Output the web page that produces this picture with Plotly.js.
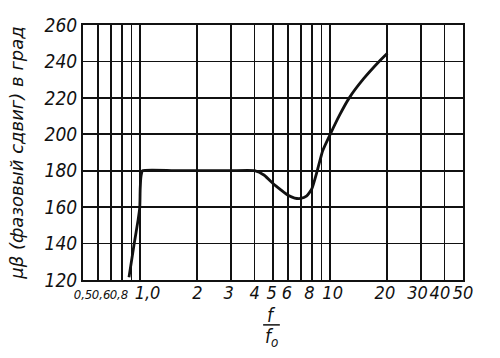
<!DOCTYPE html>
<html>
<head>
<meta charset="utf-8">
<script src="https://cdn.plot.ly/plotly-3.0.1.min.js"></script>
<style>html,body{margin:0;padding:0;background:#fff;}#chart{width:500px;height:358px;}</style>
</head>
<body>
<div id="chart"></div>
<script>
// Curve: phase shift (deg) vs f/f0
const freqRatio = [0.873, 0.93, 0.975, 0.995, 1.0, 1.01, 1.03, 1.5, 2, 3, 4, 4.5, 5, 5.5, 6, 6.5, 7, 7.5, 8, 8.55, 9.13, 10, 11.2, 12.6, 15, 18.3, 20];
const phaseDeg  = [121.5, 140, 153, 160, 170, 177, 180, 180, 180, 180, 180, 177.5, 173, 169.5, 166.5, 165, 164.8, 166, 170, 180, 191, 200, 210.5, 220, 230.5, 240.5, 244.5];

// Grid lines (x) and tick labels
const xGridVals = [0.5, 0.6, 0.7, 0.8, 0.9, 1, 2, 3, 4, 5, 6, 7, 8, 9, 10, 20, 30, 40, 50];
const xLabelVals = [0.5, 0.622, 0.773, 1.093, 2, 2.92, 4, 4.92, 5.92, 7.78, 10.3, 19.4, 28.8, 37.8, 50];
const xLabelText = ['0,5', '0,6', '0,8', '1,0', '2', '3', '4', '5', '6', '8', '10', '20', '30', '40', '50'];
const yTickVals = [120, 140, 160, 180, 200, 220, 240, 260];

const FAM = 'DejaVu Sans Condensed, DejaVu Sans, sans-serif';
const yTickFont = {family: FAM, size: 19, color: '#111', style: 'italic'};
const xTickFont = {family: FAM, size: 18, color: '#111', style: 'italic'};
const xRange = [Math.log10(0.5), Math.log10(50)];
const smallLabel = t => '<span style="font-size:13px">' + t + '</span>';
const xTickText = xLabelText.map((t, i) => i < 3 ? smallLabel(t) : t);

const data = [{
  x: freqRatio, y: phaseDeg, type: 'scatter', mode: 'lines',
  line: {color: '#111', width: 2.8, shape: 'spline', smoothing: 0.5}, hoverinfo: 'skip', showlegend: false
}, {
  x: [1], y: [120], xaxis: 'x2', yaxis: 'y', type: 'scatter', mode: 'markers',
  marker: {opacity: 0}, showlegend: false, hoverinfo: 'skip'
}];

const layout = {
  width: 500, height: 358,
  margin: {l: 83, r: 37, t: 25, b: 78},
  paper_bgcolor: '#fff', plot_bgcolor: '#fff',
  xaxis: {
    type: 'log', range: xRange,
    tickmode: 'array', tickvals: xGridVals, showticklabels: false,
    showgrid: true, gridcolor: '#111', gridwidth: 1.8,
    showline: true, mirror: true, linecolor: '#111', linewidth: 2,
    ticks: '', zeroline: false, fixedrange: true
  },
  xaxis2: {
    type: 'log', range: xRange, overlaying: 'x', anchor: 'y', side: 'bottom',
    tickmode: 'array', tickvals: xLabelVals, ticktext: xTickText,
    tickangle: 0, tickfont: xTickFont, showgrid: false, showline: false,
    ticks: '', zeroline: false
  },
  yaxis: {
    range: [120, 260], tickmode: 'array', tickvals: yTickVals,
    tickfont: yTickFont, showgrid: true, gridcolor: '#111', gridwidth: 1.8,
    showline: true, mirror: true, linecolor: '#111', linewidth: 2,
    ticks: '', zeroline: false,
    title: {text: 'μβ (фазовый сдвиг) в град', font: {family: 'DejaVu Sans, sans-serif', size: 18, color: '#111', style: 'italic'}, standoff: 16}
  },
  annotations: [
    {text: 'f', xref: 'paper', yref: 'paper', x: 0.497, y: -0.137, yanchor: 'middle', showarrow: false,
     font: {family: FAM, size: 19, color: '#111', style: 'italic'}},
    {text: 'f<sub>o</sub>', xref: 'paper', yref: 'paper', x: 0.497, y: -0.225, yanchor: 'middle', showarrow: false,
     font: {family: FAM, size: 19, color: '#111', style: 'italic'}}
  ],
  shapes: [
    {type: 'line', xref: 'paper', yref: 'paper', x0: 0.474, x1: 0.518, y0: -0.176, y1: -0.176,
     line: {color: '#111', width: 1.5}}
  ]
};

Plotly.newPlot('chart', data, layout, {staticPlot: true, displayModeBar: false});
</script>
</body>
</html>
